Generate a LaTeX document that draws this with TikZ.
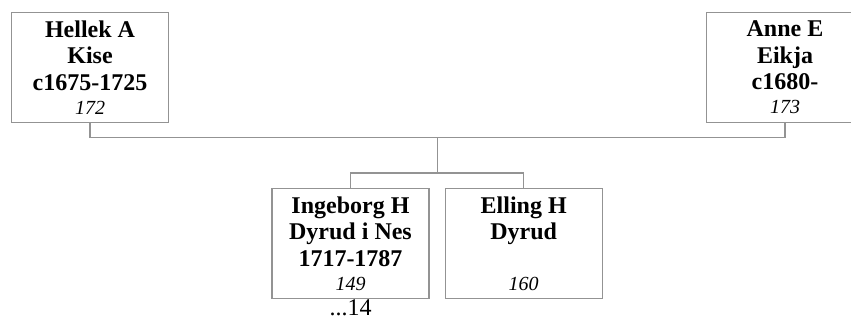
\documentclass[tikz,border=0pt]{standalone}
\usepackage{fontspec}
\setmainfont{Liberation Serif}
\newcommand{\regno}[1]{{\fontsize{20}{24}\selectfont\mdseries\itshape #1}}

\begin{document}
\begin{tikzpicture}[x=1pt, y=-1pt,
    person/.style={draw=gray!85, line width=1.3pt, minimum width=157pt,
      minimum height=110pt, inner sep=0pt, align=center,
      font=\fontsize{24}{26.5}\selectfont\bfseries},
    link/.style={draw=gray!85, line width=1.3pt}]
    \useasboundingbox (0,0) rectangle (851,322);
    \clip (0,0) rectangle (851,322);
    % parents
    \node[person] (hellek) at (90,67.5) {Hellek A\\Kise\\c1675-1725\\[-2.5pt]\regno{172}};
    \node[person] (anne) at (785,67.5) {Anne E\\Eikja\\c1680-\\[-2.5pt]\regno{173}};
    % children
    \node[person] (ingeborg) at (350.5,243.3) {Ingeborg H\\Dyrud i Nes\\1717-1787\\[-2.5pt]\regno{149}};
    \node[person] (elling) at (523.7,243.3) {Elling H\\Dyrud\\~\\[-2.5pt]\regno{160}};
    \node[anchor=north, inner sep=0pt, font=\fontsize{24}{26}\selectfont] (more) at (ingeborg.south) {...14};
    % connectors
    \coordinate (couple) at (437.5,137.5);
    \coordinate (kids) at (437.5,173);
    \draw[link] (hellek.south) |- (couple) -| (anne.south);
    \draw[link] (couple) -- (kids);
    \draw[link] (ingeborg.north) |- (kids) -| (elling.north);
  \end{tikzpicture}
\end{document}
